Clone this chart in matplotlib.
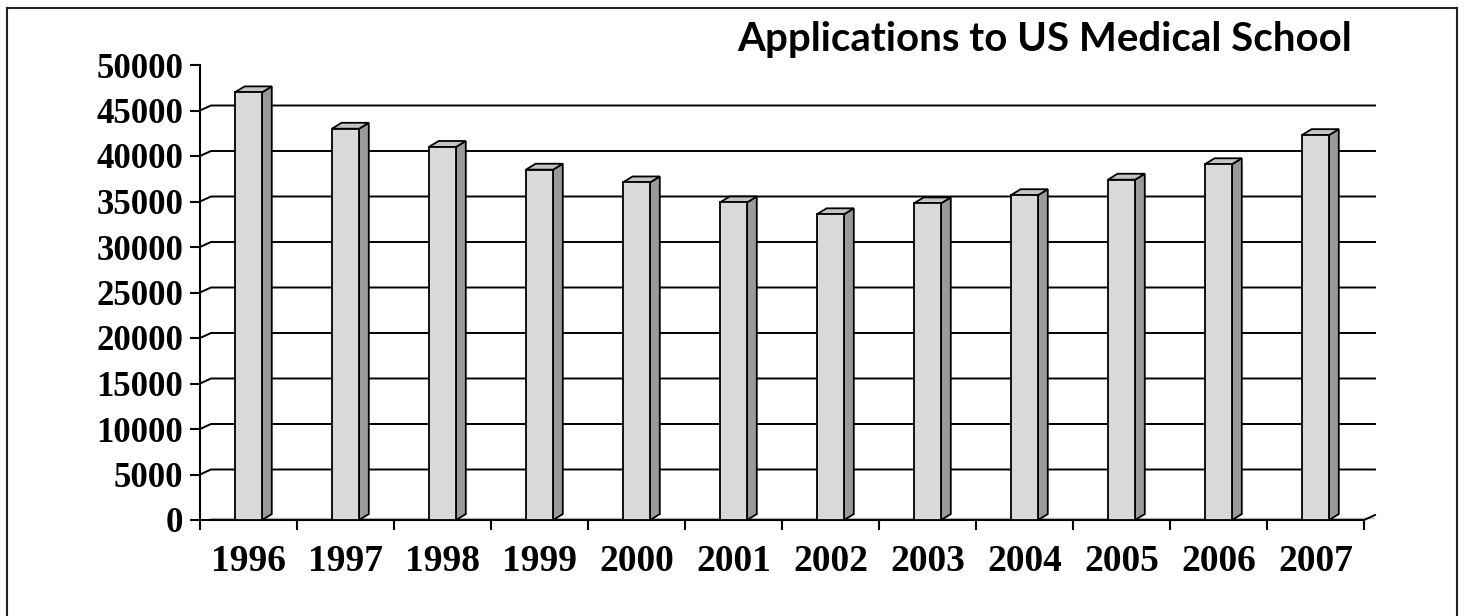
import matplotlib
matplotlib.use("Agg")
import matplotlib.pyplot as plt
from matplotlib.patches import Polygon, Rectangle

# data
years = ['1996', '1997', '1998', '1999', '2000', '2001',
         '2002', '2003', '2004', '2005', '2006', '2007']
applications = [47000, 43000, 41000, 38500, 37100, 34900,
                33600, 34800, 35700, 37400, 39100, 42300]
y_ticks = list(range(0, 50001, 5000))
title = 'Applications to US Medical School'

W, H = 1464, 616
fig = plt.figure(figsize=(W / 100, H / 100), dpi=100)
fig.patch.set_facecolor('white')

# outer frame (left, top, right)
fig.add_artist(plt.Line2D([7 / W, 7 / W], [0, 1 - 8 / H], color='#222222', lw=1.5))
fig.add_artist(plt.Line2D([7 / W, 1457 / W], [1 - 8 / H, 1 - 8 / H], color='#222222', lw=1.5))
fig.add_artist(plt.Line2D([1457 / W, 1457 / W], [0, 1 - 8 / H], color='#222222', lw=1.5))

# 3d depth of the back wall and of the bars
n = len(years)
wall_dx = 11 / 97
wall_dy = 550
bar_w = 0.28
bar_dx = 0.10
bar_dy = 650

ax = fig.add_axes([200 / W, 1 - 520 / H, 1175 / W, 455 / H])
ax.set_xlim(-0.5, n - 0.5 + wall_dx)
ax.set_ylim(0, 50000)
ax.patch.set_alpha(0)

# gridlines on the back wall
for v in y_ticks[1:-1]:
    ax.plot([-0.5, -0.5 + wall_dx, n - 0.5 + wall_dx],
            [v, v + wall_dy, v + wall_dy], color='black', lw=1.4, zorder=1,
            clip_on=False)
# floor back edge + right corner
ax.plot([-0.5 + wall_dx, n - 0.5 + wall_dx], [wall_dy * 0.3, wall_dy * 0.3],
        color='#bbbbbb', lw=1, zorder=1)
ax.plot([n - 0.5, n - 0.5 + wall_dx], [0, wall_dy], color='black', lw=1.4,
        zorder=1, clip_on=False)

# bars
for i, v in enumerate(applications):
    x0, x1 = i - bar_w / 2, i + bar_w / 2
    side = Polygon([(x1, 0), (x1 + bar_dx, bar_dy), (x1 + bar_dx, v + bar_dy), (x1, v)],
                   closed=True, facecolor='#9a9a9a', edgecolor='black', lw=1.3, zorder=3)
    top = Polygon([(x0, v), (x0 + bar_dx, v + bar_dy), (x1 + bar_dx, v + bar_dy), (x1, v)],
                  closed=True, facecolor='#c4c4c4', edgecolor='black', lw=1.3, zorder=3)
    front = Rectangle((x0, 0), bar_w, v, facecolor='#d9d9d9', edgecolor='black',
                      lw=1.3, zorder=4)
    ax.add_patch(side)
    ax.add_patch(top)
    ax.add_patch(front)

for s in ['top', 'right']:
    ax.spines[s].set_visible(False)
ax.spines['left'].set_linewidth(1.5)
ax.spines['bottom'].set_linewidth(1.5)
ax.spines['bottom'].set_bounds(-0.5, n - 0.5)

ax.set_yticks(y_ticks)
ax.set_yticklabels([str(t) for t in y_ticks])
ax.tick_params(axis='y', direction='out', length=7, width=1.5, pad=5)

ax.set_xticks([i - 0.5 for i in range(n + 1)])
ax.set_xticklabels([])
ax.set_xticks(range(n), minor=True)
ax.set_xticklabels(years, minor=True)
ax.tick_params(axis='x', which='major', direction='out', length=7, width=1.5)
ax.tick_params(axis='x', which='minor', length=0, pad=17)

for lab in ax.get_yticklabels():
    lab.set_fontfamily('Liberation Serif')
    lab.set_fontweight('bold')
    lab.set_fontsize(25)
for lab in ax.get_xticklabels(minor=True):
    lab.set_fontfamily('Liberation Serif')
    lab.set_fontweight('bold')
    lab.set_fontsize(27)

fig.text(1352 / W, 1 - 51 / H, title, ha='right', va='baseline',
         fontfamily='Lato', fontweight='bold', fontsize=29)

fig.savefig('out.png', dpi=100)
